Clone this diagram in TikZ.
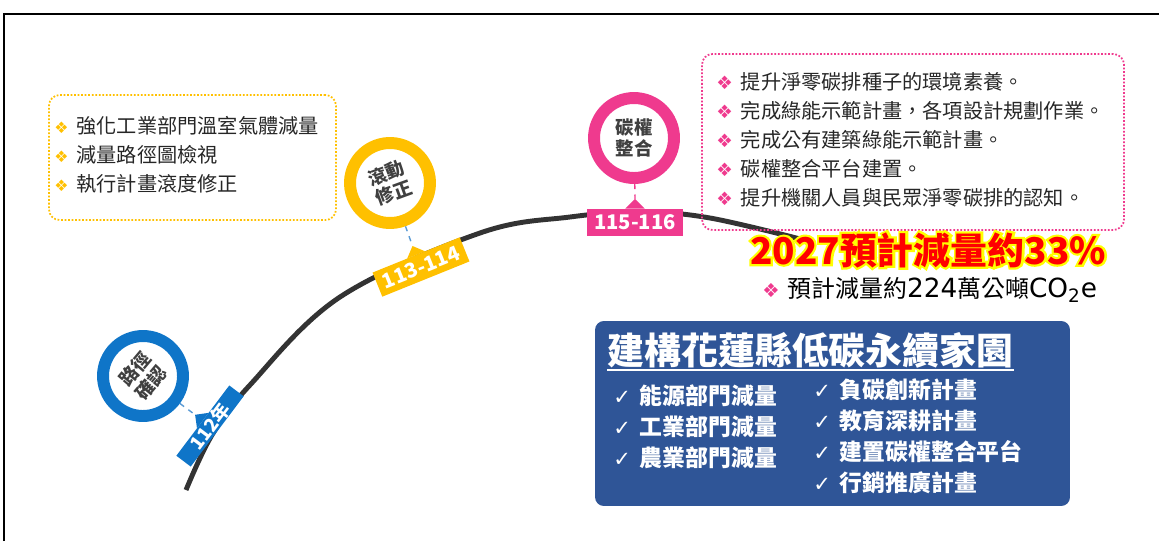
\documentclass[tikz,border=0pt]{standalone}
\usepackage{fontspec}
\setmainfont{Noto Sans CJK TC}
\newfontfamily\symfont{DejaVu Sans}
\newfontfamily\glowfont[FakeBold=12, BoldFeatures={FakeBold=12}]{Noto Sans CJK TC}
\usetikzlibrary{calc}
\definecolor{ringblue}{HTML}{0F75C8}
\definecolor{ringgold}{HTML}{FFC000}
\definecolor{ringpink}{HTML}{EF3A8E}
\definecolor{navy}{HTML}{2F5597}
\definecolor{dashblue}{HTML}{5B9BD5}
\definecolor{ringtext}{HTML}{404040}
\definecolor{glowyellow}{HTML}{FFFF00}
\definecolor{arcgray}{HTML}{333333}
\newcommand{\bulletdia}[2][9]{{\symfont\fontsize{#1}{#1}\selectfont\textcolor{#2}{❖}}\hspace{4.5pt}}
\newcommand{\chk}{{\symfont\fontsize{12}{12}\selectfont ✓}\hspace{5pt}}
\newcommand{\pointer}[2]{\fill[#2] ($(#1.north)!5.5pt!(#1.north west)$) -- ($(#1.north)!-5.5pt!(#1.center)$) -- ($(#1.north)!5.5pt!(#1.north east)$) -- cycle;
  \coordinate (#1tip) at ($(#1.north)!-5.5pt!(#1.center)$);}

\begin{document}
\begin{tikzpicture}[
    x=0.02cm, y=-0.02cm,
    ring/.style={circle, draw=#1, line width=6.8pt, minimum size=1.6cm, inner sep=0pt, align=center, font=\fontsize{10.5}{12}\selectfont\bfseries, text=ringtext},
    tag/.style={rectangle, fill=#1, inner sep=0pt, outer sep=0pt, text=white, font=\fontsize{11.5}{12}\selectfont\bfseries},
    dashline/.style={draw=#1, dashed, line width=0.8pt},
    notebox/.style={draw=#1, densely dotted, line width=1pt, rounded corners=6pt},
    notelist/.style={anchor=west, align=left, inner sep=0pt, text=black!85, font=\fontsize{11.5}{16.4}\selectfont},
    ticklist/.style={anchor=west, align=left, inner sep=0pt, text=white, font=\fontsize{13}{17.6}\selectfont\bfseries},
    goaltext/.style={inner sep=0pt, font=\fontsize{21}{26}\selectfont\bfseries},
]
\useasboundingbox (0,0) rectangle (1159,541);

% --- Frame ---
\draw[line width=1.2pt] (4,541) -- (4,14) -- (1159,14);

% --- Timeline ---
\draw[arcgray, line width=2.8pt] plot[smooth, tension=0.6] coordinates {(186,490) (212,435) (250,385) (340,297) (480,233) (570,217) (640,212) (710,218) (812,242)};

\node[tag=ringblue, rotate=53, minimum width=1.76cm, minimum height=0.36cm, font=\fontsize{10.5}{11}\selectfont\bfseries] (t112) at (210,426) {112年};
\pointer{t112}{ringblue}
\node[tag=ringgold, rotate=22, minimum width=1.88cm, minimum height=0.52cm] (t113) at (421,267) {113-114};
\pointer{t113}{ringgold}
\node[tag=ringpink, minimum width=1.92cm, minimum height=0.54cm] (t115) at (635,222) {115-116};
\pointer{t115}{ringpink}

% --- Milestones ---
\node[ring=ringblue, rotate=50] (rblue) at (143,376) {路徑\\確認};
\node[ring=ringgold, rotate=20] (rgold) at (390,183) {滾動\\修正};
\node[ring=ringpink] (rpink) at (634,138) {碳權\\整合};

\draw[dashline=dashblue] (rblue) -- (t112tip);
\draw[dashline=dashblue] (rgold) -- (t113tip);
\draw[dashline=ringpink] (rpink) -- (t115tip);

% --- Notes ---
\node[notebox=ringgold, minimum width=5.74cm, minimum height=2.5cm] (goldbox) at (192.5,157.5) {};
\node[notelist] (goldlist) at (54,155) {\bulletdia{ringgold}強化工業部門溫室氣體減量\\
  \bulletdia{ringgold}減量路徑圖檢視\\
  \bulletdia{ringgold}執行計畫滾度修正};

\node[notebox=ringpink, minimum width=8.44cm, minimum height=3.52cm] (pinkbox) at (913,142) {};
\node[notelist] (pinklist) at (716,140) {\bulletdia[10.5]{ringpink}提升淨零碳排種子的環境素養。\\
  \bulletdia[10.5]{ringpink}完成綠能示範計畫，各項設計規劃作業。\\
  \bulletdia[10.5]{ringpink}完成公有建築綠能示範計畫。\\
  \bulletdia[10.5]{ringpink}碳權整合平台建置。\\
  \bulletdia[10.5]{ringpink}提升機關人員與民眾淨零碳排的認知。};

% --- Goal ---
\node[goaltext, text=glowyellow, font=\fontsize{21}{26}\selectfont\glowfont\bfseries] (glow) at (928,250) {2027預計減量約33\%};
\node[goaltext, text=red] (goal) at (glow.center) {2027預計減量約33\%};

\node[anchor=west, inner sep=0pt, font=\fontsize{13.6}{16}\selectfont] (amount) at (762,290) {\bulletdia[11]{ringpink}預計減量約{\symfont\fontsize{15}{16}\selectfont 224}萬公噸{\symfont\fontsize{15}{16}\selectfont CO\textsubscript{2}e}};

% --- Vision ---
\node[fill=navy, rounded corners=5pt, minimum width=9.5cm, minimum height=3.7cm, inner sep=0pt] (vision) at (832.5,413.5) {};
\node[inner sep=0pt, text=white, font=\fontsize{21}{24}\selectfont\bfseries] (title) at (810.5,350) {建構花蓮縣低碳永續家園};
\draw[white, line width=1.2pt] ([yshift=-1pt]title.south west) -- ([yshift=-1pt]title.south east);

\node[ticklist] (leftcol) at (613,427) {\chk 能源部門減量\\ \chk 工業部門減量\\ \chk 農業部門減量};
\node[ticklist] (rightcol) at (813,436) {\chk 負碳創新計畫\\ \chk 教育深耕計畫\\ \chk 建置碳權整合平台\\ \chk 行銷推廣計畫};

\end{tikzpicture}
\end{document}
